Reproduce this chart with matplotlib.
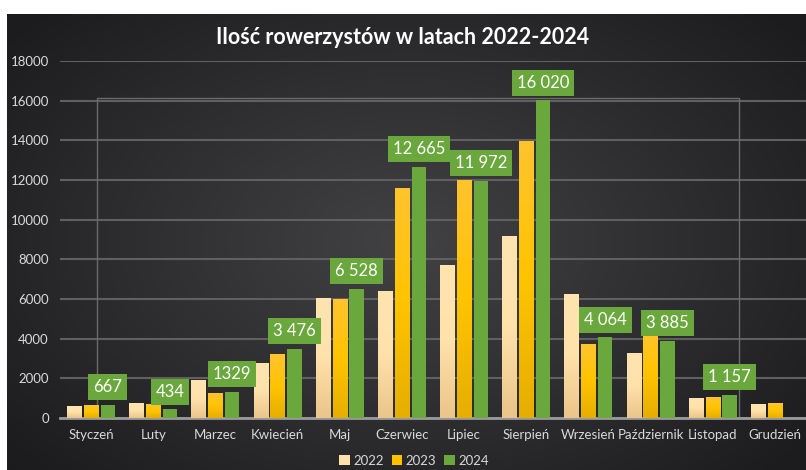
import numpy as np
import matplotlib.pyplot as plt
from matplotlib.patches import Rectangle
from matplotlib.colors import LinearSegmentedColormap

plt.rcParams['font.family'] = ['Lato', 'DejaVu Sans']

months = ['Styczeń', 'Luty', 'Marzec', 'Kwiecień', 'Maj', 'Czerwiec', 'Lipiec',
          'Sierpień', 'Wrzesień', 'Październik', 'Listopad', 'Grudzień']
y2022 = [600, 750, 1900, 2750, 6050, 6400, 7700, 9150, 6250, 3250, 1000, 680]
y2023 = [650, 700, 1250, 3200, 5950, 11550, 12000, 13950, 3700, 4500, 1050, 720]
y2024 = [667, 434, 1329, 3476, 6528, 12665, 11972, 16020, 4064, 3885, 1157, 0]
labels2024 = ['667', '434', '1329', '3 476', '6 528', '12 665', '11 972', '16 020',
              '4 064', '3 885', '1 157', '']

fig = plt.figure(figsize=(8.06, 4.70), dpi=100)
fig.patch.set_facecolor('white')

# ciemne tło, jaśniejsze w środku
bg = fig.add_axes([7/806, 0, 1 - 7/806, (470 - 14)/470])
gx, gy = np.meshgrid(np.linspace(-1, 1, 300), np.linspace(-1, 1, 200))
r = np.sqrt(gx**2 * 1.0 + gy**2 * 0.8)
bgcmap = LinearSegmentedColormap.from_list('bg', ['#424244', '#1c1c1e'])
bg.imshow(r, cmap=bgcmap, aspect='auto', extent=[0, 1, 0, 1], vmin=0, vmax=1.3)
bg.set_axis_off()

ax = fig.add_axes([60/806, (470 - 418)/470, (806 - 60)/806, (418 - 61)/470])
ax.set_facecolor('none')

x = np.arange(len(months))
w = 0.23
gap = 0.27

cm22 = LinearSegmentedColormap.from_list('c22', ['#EBC58A', '#FFE1AA', '#FFE4B0'])
cm23 = LinearSegmentedColormap.from_list('c23', ['#E6AE00', '#FFC400', '#FFC32E'])
grad = np.linspace(0, 1, 100).reshape(-1, 1)

def grad_bars(pos, vals, cmap):
    bars = ax.bar(pos, vals, w, color='none', zorder=3)
    for b in bars:
        bx, bw, bh = b.get_x(), b.get_width(), b.get_height()
        if bh <= 0:
            continue
        ax.imshow(grad, cmap=cmap, extent=[bx, bx + bw, 0, bh], aspect='auto',
                  origin='lower', zorder=3)
    return bars

grad_bars(x - gap, y2022, cm22)
grad_bars(x, y2023, cm23)
ax.bar(x + gap, y2024, w, color='#6AA73D', zorder=3)

# do legendy
ax.bar([0], [0], color='#FFE0A8', label='2022')
ax.bar([0], [0], color='#FFC000', label='2023')
ax.bar([0], [0], color='#6AA73D', label='2024')

for xi, v, t in zip(x, y2024, labels2024):
    if not t:
        continue
    ax.annotate(t, (xi + gap, v), xytext=(0, 7), textcoords='offset points',
                ha='center', va='bottom', color='white', fontsize=12,
                bbox=dict(boxstyle='square,pad=0.3', fc='#6AA73D', ec='none'),
                zorder=5)

# blada ramka jak w oryginale
ax.add_patch(Rectangle((0.1, 0), 10.33, 16150, fill=False, ec='#6a6a6a', lw=1, zorder=2))

ax.set_xlim(-0.5, len(months) - 0.5)
ax.set_ylim(0, 18000)
ax.set_yticks(range(0, 18001, 2000))
ax.set_xticks(x)
ax.set_xticklabels(months)
ax.tick_params(colors='#d9d9d9', labelsize=9.5, length=0)
ax.tick_params(axis='x', pad=8)
ax.tick_params(axis='y', pad=8)
ax.grid(axis='y', color='#606060', lw=1.5, zorder=0)
for s in ['top', 'right', 'left']:
    ax.spines[s].set_visible(False)
ax.spines['bottom'].set_color('#9a9a9a')
ax.spines['bottom'].set_linewidth(2)

fig.text(0.5, 1 - 37/470, 'Ilość rowerzystów w latach 2022-2024', ha='center', va='center',
         color='white', fontsize=15.5, fontweight='bold')

fig.legend(loc='center', bbox_to_anchor=(414/806, 1 - 461/470), ncol=3, frameon=False,
           fontsize=9.5, labelcolor='#d9d9d9', handlelength=0.8, handleheight=0.8,
           handletextpad=0.25, columnspacing=0.6)

fig.savefig('out.png', dpi=100)
